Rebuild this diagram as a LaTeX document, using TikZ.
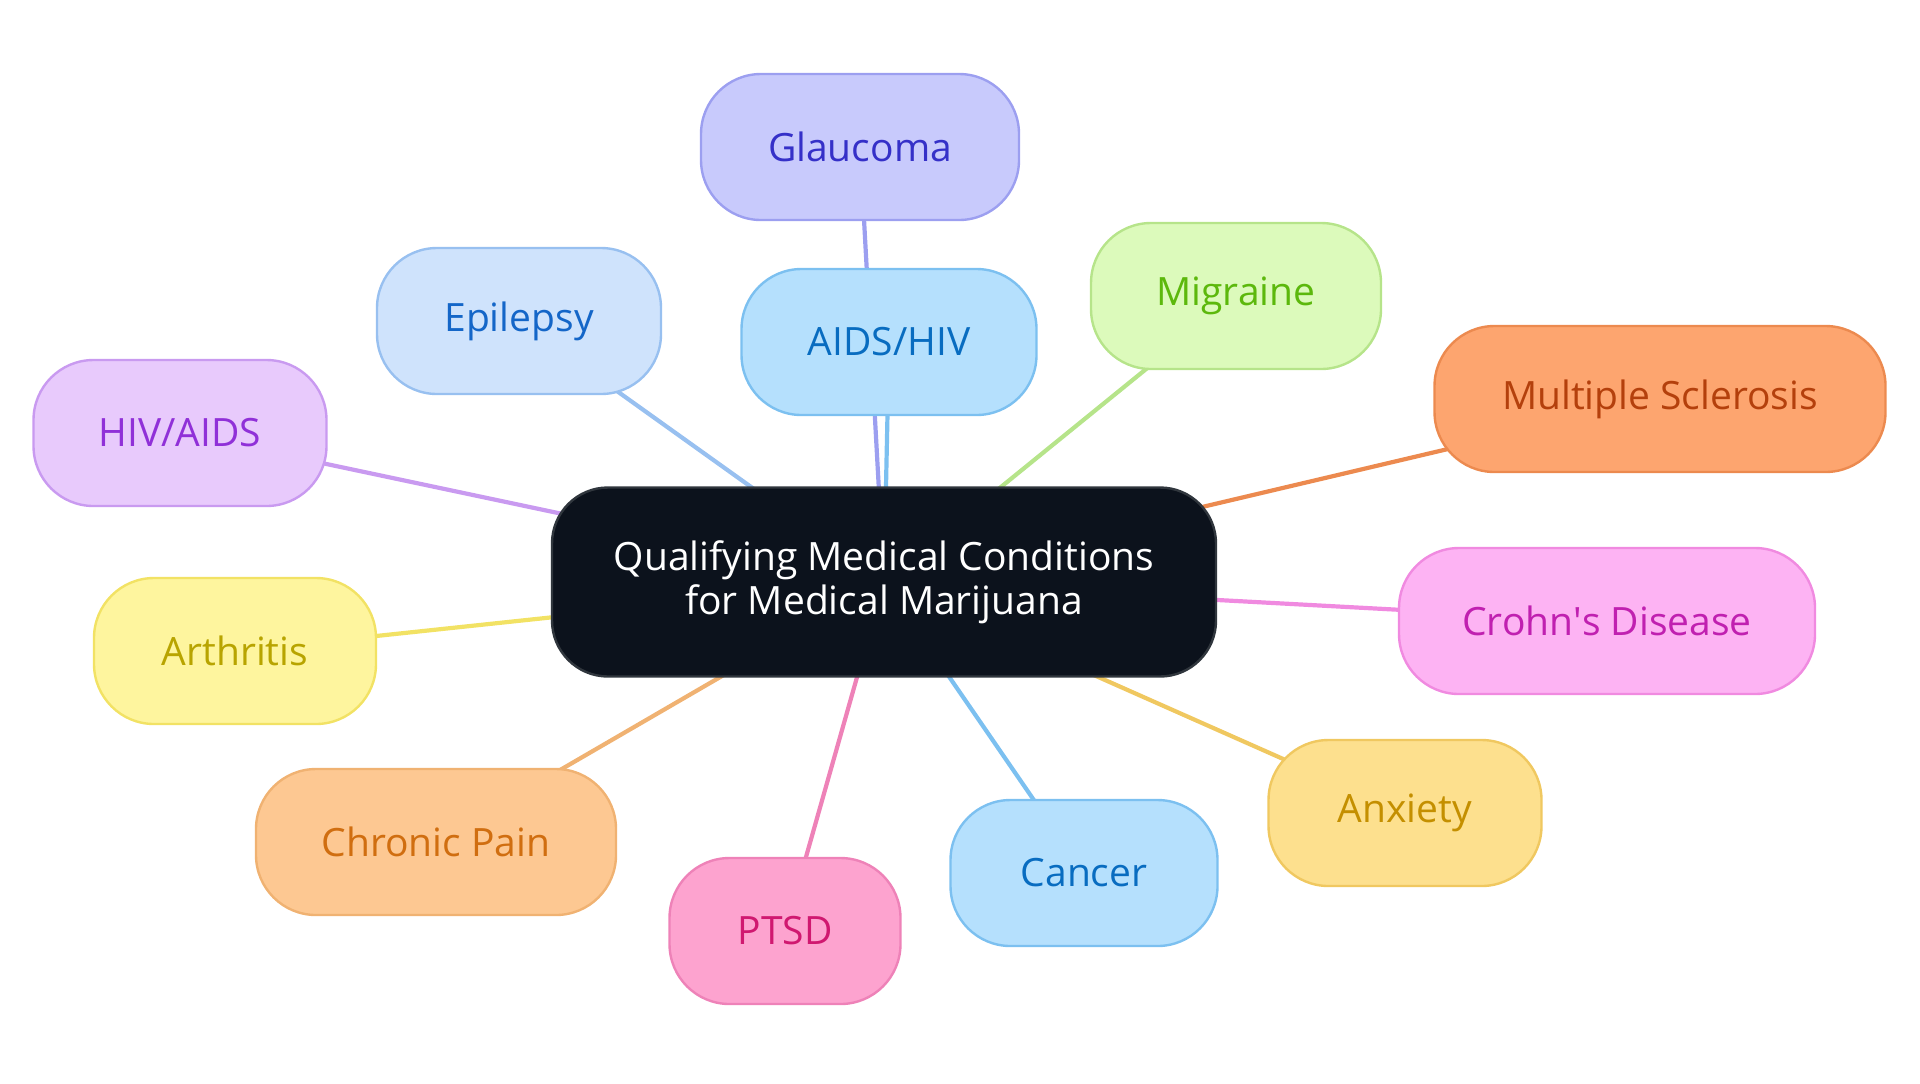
\documentclass[tikz,border=0pt]{standalone}
\usepackage{fontspec}
\setmainfont{Open Sans}
\pgfdeclarelayer{bg}
\pgfsetlayers{bg,main}
\definecolor{cfill}{HTML}{0C121C}\definecolor{cdraw}{HTML}{30363D}
\definecolor{glF}{HTML}{C8CAFC}\definecolor{glD}{HTML}{9C9FF0}\definecolor{glT}{HTML}{3530C8}
\definecolor{epF}{HTML}{CFE3FC}\definecolor{epD}{HTML}{98C0F0}\definecolor{epT}{HTML}{1466C8}
\definecolor{aiF}{HTML}{B5E0FD}\definecolor{aiD}{HTML}{7CC0F0}\definecolor{aiT}{HTML}{086CC0}
\definecolor{miF}{HTML}{DCFABB}\definecolor{miD}{HTML}{B6E48A}\definecolor{miT}{HTML}{5CB80C}
\definecolor{msF}{HTML}{FDA56F}\definecolor{msD}{HTML}{EC8A4F}\definecolor{msT}{HTML}{B4400C}
\definecolor{haF}{HTML}{E8CAFC}\definecolor{haD}{HTML}{C99AF0}\definecolor{haT}{HTML}{9030D8}
\definecolor{crF}{HTML}{FDB3F3}\definecolor{crD}{HTML}{F08AE0}\definecolor{crT}{HTML}{C020B0}
\definecolor{arF}{HTML}{FEF59E}\definecolor{arD}{HTML}{F2E264}\definecolor{arT}{HTML}{B8A400}
\definecolor{anF}{HTML}{FDE08E}\definecolor{anD}{HTML}{F0C860}\definecolor{anT}{HTML}{C48F00}
\definecolor{chF}{HTML}{FDC892}\definecolor{chD}{HTML}{F0B272}\definecolor{chT}{HTML}{D06E10}
\definecolor{ptF}{HTML}{FDA3CF}\definecolor{ptD}{HTML}{EE82B8}\definecolor{ptT}{HTML}{D01870}
\tikzset{
  leaf/.style={rectangle, rounded corners=30pt, line width=1.2pt, minimum height=73pt,
    inner sep=0pt, font=\fontsize{19.5}{22}\selectfont},
  conn/.style={line width=2.1pt},
}
\begin{document}
\begin{tikzpicture}[x=0.5pt,y=-0.5pt]
\useasboundingbox (0,0) rectangle (1920,1083);
\node[rectangle, rounded corners=28pt, fill=cfill, draw=cdraw, line width=1.2pt,
  minimum width=332pt, minimum height=94.5pt, text=white, align=center,
  font=\fontsize{19.5}{22}\selectfont] (c) at (884,582)
  {Qualifying Medical Conditions\\for Medical Marijuana};
\node[leaf, fill=glF, draw=glD, text=glT, minimum width=159pt] (gl) at (860,147) {Glaucoma};
\node[leaf, fill=epF, draw=epD, text=epT, minimum width=142pt] (ep) at (519,321) {Epilepsy};
\node[leaf, fill=aiF, draw=aiD, text=aiT, minimum width=147.5pt] (ai) at (889,342) {AIDS/HIV};
\node[leaf, fill=miF, draw=miD, text=miT, minimum width=145pt] (mi) at (1236,296) {Migraine};
\node[leaf, fill=msF, draw=msD, text=msT, minimum width=225.5pt] (ms) at (1660,399) {Multiple Sclerosis};
\node[leaf, fill=haF, draw=haD, text=haT, minimum width=146.5pt] (ha) at (180,433) {HIV/AIDS};
\node[leaf, fill=crF, draw=crD, text=crT, minimum width=208pt] (cr) at (1607,621) {Crohn\textquotesingle s Disease};
\node[leaf, fill=arF, draw=arD, text=arT, minimum width=141pt] (ar) at (235,651) {Arthritis};
\node[leaf, fill=anF, draw=anD, text=anT, minimum width=136.5pt] (an) at (1405,813) {Anxiety};
\node[leaf, fill=chF, draw=chD, text=chT, minimum width=180pt] (ch) at (436,842) {Chronic Pain};
\node[leaf, fill=aiF, draw=aiD, text=aiT, minimum width=133.5pt] (ca) at (1084,873) {Cancer};
\node[leaf, fill=ptF, draw=ptD, text=ptT, minimum width=115.5pt] (pt) at (785,931) {PTSD};
\begin{pgfonlayer}{bg}
\draw[conn, draw=glD] (c.center) -- (gl.center);
\draw[conn, draw=epD] (c.center) -- (ep.center);
\draw[conn, draw=aiD] (c.center) -- (ai.center);
\draw[conn, draw=miD] (c.center) -- (mi.center);
\draw[conn, draw=msD] (c.center) -- (ms.center);
\draw[conn, draw=haD] (c.center) -- (ha.center);
\draw[conn, draw=crD] (c.center) -- (cr.center);
\draw[conn, draw=arD] (c.center) -- (ar.center);
\draw[conn, draw=anD] (c.center) -- (an.center);
\draw[conn, draw=chD] (c.center) -- (ch.center);
\draw[conn, draw=aiD] (c.center) -- (ca.center);
\draw[conn, draw=ptD] (c.center) -- (pt.center);
\end{pgfonlayer}
\end{tikzpicture}
\end{document}
